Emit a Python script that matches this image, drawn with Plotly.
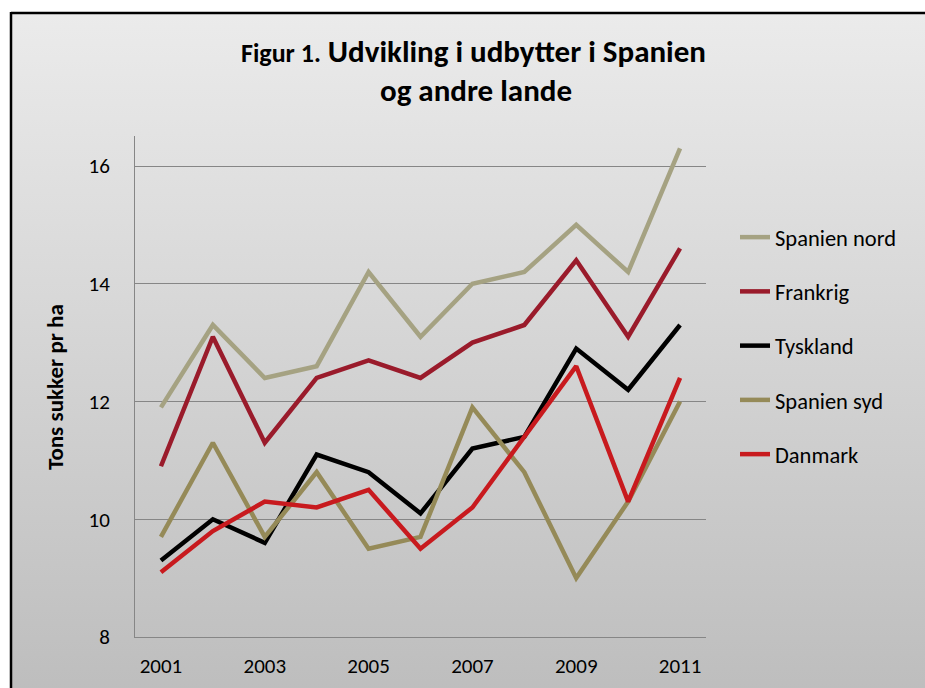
import base64
import plotly.graph_objects as go

# data
years = ["2001", "2002", "2003", "2004", "2005", "2006", "2007", "2008", "2009", "2010", "2011"]
spanien_nord = [11.9, 13.3, 12.4, 12.6, 14.2, 13.1, 14.0, 14.2, 15.0, 14.2, 16.3]
frankrig = [10.9, 13.1, 11.3, 12.4, 12.7, 12.4, 13.0, 13.3, 14.4, 13.1, 14.6]
tyskland = [9.3, 10.0, 9.6, 11.1, 10.8, 10.1, 11.2, 11.4, 12.9, 12.2, 13.3]
spanien_syd = [9.7, 11.3, 9.7, 10.8, 9.5, 9.7, 11.9, 10.8, 9.0, 10.3, 12.0]
danmark = [9.1, 9.8, 10.3, 10.2, 10.5, 9.5, 10.2, 11.4, 12.6, 10.3, 12.4]
x_ticks = ["2001", "2003", "2005", "2007", "2009", "2011"]

W, H = 925, 688
L, R, T, B = 135, 706, 136, 637  # plot area in pixels

FONT = "Carlito, Lato, 'Open Sans', sans-serif"


def fx(px):
    return (px - L) / (R - L)


def fy(py):
    return (B - py) / (B - T)


series = [
    ("Spanien nord", spanien_nord, "#a5a282"),
    ("Frankrig", frankrig, "#9a1b2b"),
    ("Tyskland", tyskland, "#000000"),
    ("Spanien syd", spanien_syd, "#958a58"),
    ("Danmark", danmark, "#c81a1e"),
]

fig = go.Figure()
for i, (name, vals, col) in enumerate(series):
    fig.add_trace(go.Scatter(
        x=years, y=vals, mode="lines", name=name, legendgroup=str(i),
        line=dict(color=col, width=4.5),
    ))

# grey gradient background of the chart area
svg = ('<svg xmlns="http://www.w3.org/2000/svg" width="100" height="100" preserveAspectRatio="none">'
       '<defs><linearGradient id="g" x1="0" y1="0" x2="0" y2="1">'
       '<stop offset="0" stop-color="#ebebeb"/><stop offset="1" stop-color="#bdbdbd"/>'
       '</linearGradient></defs><rect width="100" height="100" fill="url(#g)"/></svg>')
uri = "data:image/svg+xml;base64," + base64.b64encode(svg.encode()).decode()

fig.add_layout_image(
    source=uri, xref="paper", yref="paper", x=fx(11), y=fy(13),
    sizex=fx(W + 10) - fx(11), sizey=fy(13) - fy(H + 10),
    xanchor="left", yanchor="top", sizing="stretch", layer="below",
)

# frame: only the top and left edges fall inside the picture
fig.add_shape(
    type="line", xref="paper", yref="paper",
    x0=fx(11), x1=fx(W + 5), y0=fy(13), y1=fy(13),
    line=dict(color="#000000", width=2.5),
)
fig.add_shape(
    type="line", xref="paper", yref="paper",
    x0=fx(11), x1=fx(11), y0=fy(12), y1=fy(H + 5),
    line=dict(color="#000000", width=2.5),
)

# title, two centred lines
fig.add_annotation(
    text="<span style='font-size:26px'>Figur 1.</span> Udvikling i udbytter i Spanien",
    xref="paper", yref="paper", x=fx(473), y=fy(51), xanchor="center", yanchor="middle",
    showarrow=False, font=dict(family=FONT, size=31, color="#000000", weight="bold"),
)
fig.add_annotation(
    text="og andre lande",
    xref="paper", yref="paper", x=fx(476), y=fy(90), xanchor="center", yanchor="middle",
    showarrow=False, font=dict(family=FONT, size=31, color="#000000", weight="bold"),
)
# y-axis title
fig.add_annotation(
    text="Tons sukker pr ha", textangle=-90,
    xref="paper", yref="paper", x=fx(55), y=fy(387), xanchor="center", yanchor="middle",
    showarrow=False, font=dict(family=FONT, size=23, color="#000000", weight="bold"),
)

fig.update_layout(
    width=W, height=H,
    margin=dict(l=L, r=W - R, t=T, b=H - B, autoexpand=False),
    paper_bgcolor="#ffffff", plot_bgcolor="rgba(0,0,0,0)",
    font=dict(family=FONT, size=21, color="#000000"),
    showlegend=True,
    legend=dict(
        x=fx(735), y=fy(216), xanchor="left", yanchor="top",
        bgcolor="rgba(0,0,0,0)", font=dict(size=22.5),
        traceorder="grouped", tracegroupgap=22,
    ),
    xaxis=dict(
        type="category", range=[-0.5, 10.5], tickmode="array", tickvals=x_ticks,
        showgrid=False, showline=True, linecolor="#868686", linewidth=1,
        ticks="", zeroline=False, tickfont=dict(size=21), ticklabelstandoff=10,
        automargin=False,
    ),
    yaxis=dict(
        range=[8, 16.51], dtick=2, tick0=8,
        showgrid=True, gridcolor="#868686", gridwidth=1,
        showline=True, linecolor="#868686", linewidth=1, zeroline=False,
        ticks="", tickfont=dict(size=21), ticklabelstandoff=20,
        automargin=False,
    ),
)

fig.write_html(
    "out.html",
    config={"displayModeBar": False},
    post_script="document.body.style.margin='0';document.body.style.overflow='hidden';",
)
